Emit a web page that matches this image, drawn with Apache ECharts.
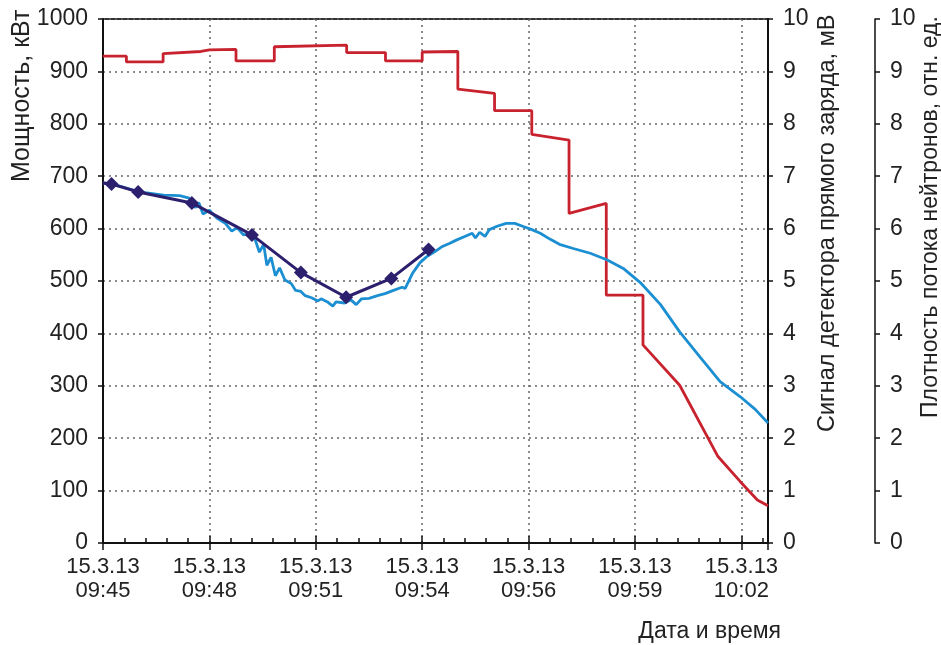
<!DOCTYPE html>
<html>
<head>
<meta charset="utf-8">
<script src="https://cdn.jsdelivr.net/npm/echarts@6/dist/echarts.min.js"></script>
<style>
  html, body { margin: 0; padding: 0; background: #fff; }
  #chart { width: 941px; height: 645px; }
</style>
</head>
<body>
<div id="chart"></div>
<script>
// Tick labels of the time axis (one major step per label)
const tickDates = ['15.3.13', '15.3.13', '15.3.13', '15.3.13', '15.3.13', '15.3.13', '15.3.13'];
const tickTimes = ['09:45', '09:48', '09:51', '09:54', '09:56', '09:59', '10:02'];

// Power, kW (measured points), position in major time steps
const powerT  = [0, 0.08, 0.33, 0.835, 1.40, 1.86, 2.285, 2.71, 3.06];
const powerKW = [687, 685, 670, 649, 588, 516, 469, 505, 560];

// Direct-charge detector signal, mV
const detT = [0, 0.09, 0.34, 0.57, 0.72, 0.81, 0.87, 0.90, 0.94, 1.00, 1.07, 1.15, 1.21, 1.26, 1.32, 1.37,
  1.42, 1.47, 1.51, 1.54, 1.58, 1.62, 1.66, 1.71, 1.77, 1.81, 1.86, 1.90, 1.96, 2.02, 2.05, 2.11, 2.16, 2.19,
  2.27, 2.33, 2.38, 2.43, 2.50, 2.58, 2.65, 2.73, 2.81, 2.84, 2.91, 2.98, 3.04, 3.12, 3.19, 3.26, 3.32, 3.40,
  3.47, 3.50, 3.54, 3.59, 3.63, 3.71, 3.79, 3.87, 3.95, 4.03, 4.11, 4.20, 4.29, 4.42, 4.58, 4.74, 4.89, 5.05,
  5.24, 5.42, 5.61, 5.80, 5.99, 6.13, 6.25];
const detMV = [6.87, 6.85, 6.70, 6.64, 6.63, 6.58, 6.40, 6.50, 6.28, 6.35, 6.20, 6.10, 5.95, 6.02, 5.88, 5.90,
  5.85, 5.55, 5.70, 5.30, 5.45, 5.10, 5.25, 5.02, 4.95, 4.82, 4.80, 4.72, 4.68, 4.62, 4.66, 4.60, 4.52, 4.60,
  4.58, 4.64, 4.55, 4.66, 4.67, 4.72, 4.76, 4.82, 4.88, 4.86, 5.15, 5.35, 5.46, 5.56, 5.66, 5.72, 5.78, 5.85,
  5.91, 5.82, 5.93, 5.85, 5.98, 6.05, 6.10, 6.10, 6.04, 5.98, 5.91, 5.80, 5.70, 5.62, 5.53, 5.40, 5.24, 4.97,
  4.55, 4.03, 3.55, 3.08, 2.79, 2.55, 2.29];

// Neutron flux density, rel. units (sampled, stepwise)
const fluxT = [0, 0.22, 0.22, 0.565, 0.565, 0.92, 1.0, 1.25, 1.25, 1.61, 1.61, 2.29, 2.29, 2.655, 2.655, 3.0,
  3.0, 3.335, 3.335, 3.68, 3.68, 4.03, 4.03, 4.38, 4.38, 4.73, 4.73, 5.075, 5.075, 5.42, 5.78, 5.99, 6.15, 6.25];
const fluxRel = [9.29, 9.29, 9.18, 9.18, 9.34, 9.38, 9.41, 9.42, 9.20, 9.20, 9.47, 9.50, 9.36, 9.36, 9.20, 9.20,
  9.37, 9.38, 8.66, 8.58, 8.25, 8.25, 7.80, 7.69, 6.29, 6.48, 4.73, 4.73, 3.78, 3.01, 1.65, 1.17, 0.82, 0.71];

const FONT = "'Liberation Sans', Arial, sans-serif";
const TXT = '#222';
const X_MAX = 6.25;

const pairs = (xs, ys) => xs.map((x, i) => [x, ys[i]]);
const plain = (v) => String(v);

const gridLine = { show: true, lineStyle: { color: '#666', width: 1.5, type: [2, 4] } };
const tickStyle = { color: '#111', width: 1.5 };

const chart = echarts.init(document.getElementById('chart'), null, { renderer: 'canvas' });

chart.setOption({
  backgroundColor: '#fff',
  animation: false,
  grid: { left: 103, right: 173, top: 19, bottom: 102, show: true, borderColor: '#333', borderWidth: 2, backgroundColor: '#fff' },
  xAxis: [
    {
      type: 'value', min: 0, max: X_MAX, interval: 1, position: 'bottom',
      axisLine: { show: true, onZero: false, lineStyle: { color: '#111', width: 2 } },
      axisTick: { show: true, inside: true, length: 7, lineStyle: tickStyle },
      axisLabel: {
        margin: 12, color: TXT, fontFamily: FONT, fontSize: 22, lineHeight: 24,
        formatter: (v) => {
          const i = Math.round(v);
          if (Math.abs(v - i) > 1e-6 || !tickDates[i]) return '';
          return tickDates[i] + '\n' + tickTimes[i];
        }
      },
      splitLine: gridLine
    },
    {
      type: 'value', min: 0, max: X_MAX, interval: 1, position: 'bottom',
      axisLine: { show: false, onZero: false },
      axisTick: { show: true, inside: false, length: 7, lineStyle: tickStyle },
      axisLabel: { show: false }, splitLine: { show: false }
    },
    {
      type: 'value', min: 0, max: X_MAX, interval: 0.2, position: 'bottom',
      axisLine: { show: false, onZero: false },
      axisTick: { show: true, inside: true, length: 5, lineStyle: tickStyle },
      axisLabel: { show: false }, splitLine: { show: false }
    }
  ],
  yAxis: [
    {
      type: 'value', min: 0, max: 1000, interval: 100, position: 'left',
      axisLine: { show: true, onZero: false, lineStyle: { color: '#111', width: 2 } },
      axisTick: { show: true, length: 5, lineStyle: tickStyle },
      axisLabel: { margin: 15, color: TXT, fontFamily: FONT, fontSize: 23, formatter: plain },
      splitLine: gridLine
    },
    {
      type: 'value', min: 0, max: 10, interval: 1, position: 'right',
      axisLine: { show: true, onZero: false, lineStyle: { color: '#111', width: 2 } },
      axisTick: { show: true, length: 5, lineStyle: tickStyle },
      axisLabel: { margin: 15, color: TXT, fontFamily: FONT, fontSize: 23, formatter: plain },
      splitLine: { show: false }
    },
    {
      type: 'value', min: 0, max: 10, interval: 1, position: 'right', offset: 107,
      axisLine: { show: true, onZero: false, lineStyle: { color: '#111', width: 1.5 } },
      axisTick: { show: true, length: 5, lineStyle: tickStyle },
      axisLabel: { margin: 15, color: TXT, fontFamily: FONT, fontSize: 23, formatter: plain },
      splitLine: { show: false }
    }
  ],
  series: [
    {
      name: 'Плотность потока нейтронов', type: 'line', xAxisIndex: 0, yAxisIndex: 2,
      data: pairs(fluxT, fluxRel), showSymbol: false, symbol: 'none',
      lineStyle: { color: '#c8222f', width: 2.8 }, z: 3
    },
    {
      name: 'Сигнал детектора прямого заряда', type: 'line', xAxisIndex: 0, yAxisIndex: 1,
      data: pairs(detT, detMV), showSymbol: false, symbol: 'none',
      lineStyle: { color: '#1b8fd2', width: 2.8 }, z: 4
    },
    {
      name: 'Мощность', type: 'line', xAxisIndex: 0, yAxisIndex: 0,
      data: pairs(powerT, powerKW),
      symbol: (value, params) => (params.dataIndex === 0 ? 'none' : 'diamond'),
      symbolSize: 14,
      itemStyle: { color: '#2c1f6e' },
      lineStyle: { color: '#2c1f6e', width: 3 }, z: 5
    }
  ],
  graphic: [
    {
      type: 'text', x: 22, y: 182, rotation: Math.PI / 2,
      style: { text: 'Мощность, кВт', fill: TXT, font: '25px ' + FONT, align: 'left', verticalAlign: 'middle' }
    },
    {
      type: 'text', x: 828, y: 432, rotation: Math.PI / 2,
      style: { text: 'Сигнал детектора прямого заряда, мВ', fill: TXT, font: '23.5px ' + FONT, align: 'left', verticalAlign: 'middle' }
    },
    {
      type: 'text', x: 931, y: 418, rotation: Math.PI / 2,
      style: { text: 'Плотность потока нейтронов, отн. ед.', fill: TXT, font: '23px ' + FONT, align: 'left', verticalAlign: 'middle' }
    },
    {
      type: 'text', x: 781, y: 632,
      style: { text: 'Дата и время', fill: TXT, font: '23px ' + FONT, align: 'right', verticalAlign: 'middle' }
    }
  ]
});
</script>
</body>
</html>
